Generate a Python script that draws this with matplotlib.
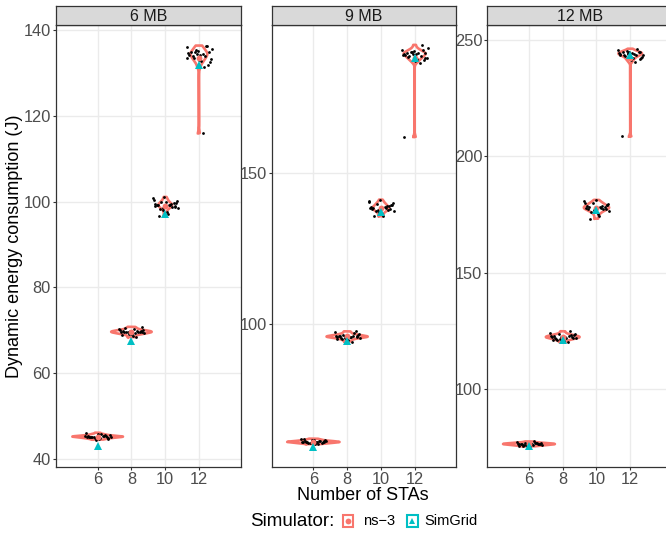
import numpy as np
import matplotlib
matplotlib.use("Agg")
import matplotlib.pyplot as plt
from matplotlib.patches import Rectangle
from matplotlib.lines import Line2D

plt.rcParams['font.family'] = ['Liberation Sans', 'DejaVu Sans']

# ---------------- data ----------------
PANELS = ["6 MB", "9 MB", "12 MB"]
STAS = [6, 8, 10, 12]
X_TICKS = [6, 8, 10, 12]
Y_TICKS = [[40, 60, 80, 100, 120, 140], [100, 150], [100, 150, 200, 250]]
Y_LIMITS = [(38.1, 141.2), (52.6, 199.2), (66.4, 256.5)]

NS3_6MB = [
    [45.1, 45.3, 44.9, 45.5, 45.2, 44.7, 45.0, 45.4, 45.8, 45.2, 44.6, 45.1, 45.6,
     45.3, 44.9, 45.0, 45.2, 46.1, 45.4, 44.5, 45.3, 45.1, 45.7, 44.8, 45.2],
    [69.5, 69.8, 69.2, 70.1, 69.6, 68.6, 69.9, 70.4, 69.3, 69.7, 70.8, 69.1, 69.5,
     68.9, 70.2, 69.6, 69.4, 70.0, 68.4, 69.8, 69.7, 70.6, 69.2, 69.5, 69.9],
    [99.0, 99.5, 98.6, 100.2, 99.3, 97.5, 98.9, 100.8, 99.1, 98.2, 99.7, 101.1, 98.8,
     99.4, 97.0, 99.9, 98.5, 100.4, 99.2, 98.0, 99.6, 96.6, 100.0, 98.7, 99.3],
    [134.6, 133.9, 135.4, 133.2, 135.0, 134.3, 131.9, 136.0, 134.4, 133.6, 132.6, 135.2,
     136.4, 134.1, 132.9, 134.8, 135.7, 133.4, 131.4, 134.5, 136.2, 134.0, 133.0, 134.9, 116.0],
]
NS3_9MB = [
    [60.9, 61.2, 60.6, 61.5, 60.8, 60.3, 61.0, 61.8, 60.9, 60.5, 61.3, 60.7, 61.1,
     62.0, 60.8, 60.4, 61.2, 60.9, 60.2, 61.4, 60.6, 61.0, 61.6, 60.8, 61.1],
    [95.8, 96.2, 95.4, 96.7, 95.9, 94.6, 96.0, 97.3, 95.6, 95.1, 96.4, 95.7, 96.9,
     94.9, 95.8, 96.3, 95.5, 96.1, 94.2, 95.9, 97.6, 95.3, 96.5, 95.7, 96.0],
    [138.4, 139.1, 137.8, 140.0, 138.6, 136.5, 138.2, 140.8, 138.9, 137.4, 139.5, 141.3, 138.0,
     138.7, 136.0, 139.8, 137.6, 140.4, 138.5, 137.1, 139.2, 135.8, 138.3, 139.6, 138.1],
    [189.5, 189.0, 190.3, 188.4, 190.0, 189.7, 187.6, 191.0, 189.8, 188.8, 188.1, 190.6,
     192.6, 189.3, 187.9, 190.2, 191.5, 189.1, 186.7, 189.6, 190.8, 188.6, 187.3, 189.9, 162.1],
]
NS3_12MB = [
    [76.3, 76.6, 75.9, 76.9, 76.2, 75.5, 76.4, 77.1, 76.0, 75.7, 76.5, 76.1, 76.8,
     75.3, 76.3, 76.7, 75.8, 76.4, 77.4, 76.0, 76.6, 75.6, 76.2, 76.5, 76.1],
    [122.2, 122.8, 121.6, 123.4, 122.0, 120.5, 122.5, 124.2, 121.9, 121.2, 123.0, 122.4, 124.8,
     121.0, 122.1, 123.6, 121.7, 122.6, 120.2, 122.3, 123.2, 121.4, 122.9, 122.0, 122.7],
    [177.8, 178.6, 176.9, 179.5, 178.1, 175.4, 177.5, 180.6, 178.3, 176.2, 179.0, 181.3, 177.2,
     178.8, 174.3, 179.9, 176.7, 180.1, 177.9, 175.9, 178.4, 173.2, 177.6, 179.2, 177.4],
    [244.0, 243.5, 244.6, 242.9, 245.1, 244.3, 241.8, 245.7, 244.2, 243.2, 242.5, 244.8,
     246.3, 243.8, 242.2, 245.3, 243.6, 244.4, 240.6, 244.1, 245.0, 243.4, 241.3, 244.7, 208.6],
]
SIMGRID_6MB = [43.1, 67.5, 97.2, 131.9]
SIMGRID_9MB = [59.3, 94.5, 137.3, 188.2]
SIMGRID_12MB = [75.6, 121.2, 177.0, 243.7]

NS3 = [NS3_6MB, NS3_9MB, NS3_12MB]
SIMGRID = [SIMGRID_6MB, SIMGRID_9MB, SIMGRID_12MB]

# ---------------- style ----------------
RED = "#F8766D"
CYAN = "#00BFC4"
VIOLIN_WIDTHS = [[3.0, 2.4, 0.82, 1.0], [3.1, 2.44, 1.0, 1.3], [3.07, 2.0, 1.5, 1.4]]
JITTER = [-0.62, 0.35, -0.15, 0.71, -0.44, 0.08, 0.56, -0.73, 0.22, -0.31, 0.64, -0.05, 0.41,
          -0.58, 0.15, -0.22, 0.77, -0.68, 0.29, -0.11, 0.50, -0.38, 0.02, 0.60, -0.50]
OUTLIER_JITTER = [0.25, -0.64, -0.46]

W, H = 666, 533
fig = plt.figure(figsize=(W / 100, H / 100), dpi=100)


def fx(px):
    return px / W


def fy(py):
    return 1 - py / H


def kde(vals):
    v = np.asarray(vals, float)
    n = len(v)
    sd = v.std(ddof=1)
    q75, q25 = np.percentile(v, [75, 25])
    bw = 0.9 * min(sd, (q75 - q25) / 1.34) * n ** -0.2
    y = np.linspace(v.min(), v.max(), 600)
    d = np.exp(-0.5 * ((y[:, None] - v[None, :]) / bw) ** 2).sum(1)
    return y, d / d.max()


panel_left = [56, 271.7, 487.3]
panel_w = 184.6
top, bottom = 25, 467
strip_top = 6

for p in range(3):
    ax = fig.add_axes([fx(panel_left[p]), fy(bottom), panel_w / W, (bottom - top) / H])
    ax.set_xlim(3.53, 14.47)
    ax.set_ylim(*Y_LIMITS[p])
    ax.set_xticks(X_TICKS)
    ax.set_yticks(Y_TICKS[p])
    ax.grid(True, color="#EBEBEB", lw=1.0, zorder=0)
    ax.set_axisbelow(True)
    for s in ax.spines.values():
        s.set_color("#333333")
        s.set_linewidth(0.9)
    ax.tick_params(axis="both", length=2.2, width=0.8, color="#333333",
                   labelcolor="#4D4D4D", labelsize=11.8, pad=1.5)

    for g, x in enumerate(STAS):
        vals = NS3[p][g]
        y, d = kde(vals)
        hw = VIOLIN_WIDTHS[p][g] / 2
        xs = np.concatenate([x - hw * d, (x + hw * d)[::-1], [x - hw * d[0]]])
        ys = np.concatenate([y, y[::-1], [y[0]]])
        ax.plot(xs, ys, color=RED, lw=1.9, solid_joinstyle="round", zorder=2)
        jit = list(JITTER)
        if g == 3:
            jit[-1] = OUTLIER_JITTER[p]
        ax.plot(x + np.array(jit[:len(vals)]), vals, 'o', color="black", ms=2.0,
                mew=0, zorder=3, linestyle="none")
        ax.plot([x], [np.mean(vals)], 'o', color=RED, ms=4.2, mew=0, zorder=4)
        ax.plot([x], [SIMGRID[p][g]], '^', color=CYAN, ms=5.8, mew=0, zorder=5)

    # strip
    sax = fig.add_axes([fx(panel_left[p]), fy(top), panel_w / W, (top - strip_top) / H])
    sax.set_facecolor("#D9D9D9")
    sax.set_xticks([])
    sax.set_yticks([])
    for s in sax.spines.values():
        s.set_color("#333333")
        s.set_linewidth(0.9)
    sax.text(0.5, 0.46, PANELS[p], ha="center", va="center", fontsize=11.5,
             color="#1A1A1A", transform=sax.transAxes)

fig.text(fx(363), fy(500), "Number of STAs", ha="center", va="baseline", fontsize=13)
fig.text(fx(15), fy(246), "Dynamic energy consumption (J)", ha="center", va="center",
         rotation=90, fontsize=13)

# legend
fig.text(fx(250), fy(521), "Simulator:", ha="left", va="center", fontsize=13.5)
for (kx, lx, col, mk, lab) in [(343, 363, RED, 'o', "ns\u22123"), (407, 424, CYAN, '^', "SimGrid")]:
    fig.add_artist(Rectangle((fx(kx), fy(527)), 10.5 / W, 12 / H, transform=fig.transFigure,
                             facecolor="white", edgecolor=col, lw=1.5))
    fig.add_artist(Line2D([fx(kx + 5.25)], [fy(521)], marker=mk, color=col,
                          ms=4.2 if mk == 'o' else 5.0, mew=0, transform=fig.transFigure))
    fig.text(fx(lx), fy(521), lab, ha="left", va="center", fontsize=10.5)

fig.savefig("out.png", dpi=100)
